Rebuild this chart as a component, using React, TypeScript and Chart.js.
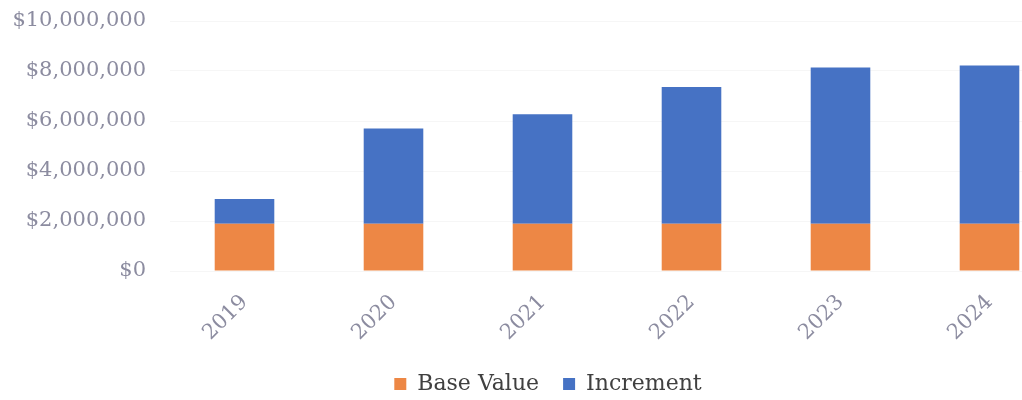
import React, { useEffect, useRef } from "react";
import { Chart, registerables } from "chart.js";

Chart.register(...registerables);

const years = ["2019", "2020", "2021", "2022", "2023", "2024"];
const baseValue = [1890000, 1890000, 1890000, 1890000, 1890000, 1890000];
const increment = [990000, 3810000, 4380000, 5470000, 6250000, 6330000];
const yTicks = [0, 2000000, 4000000, 6000000, 8000000, 10000000];

const FONT = "'DejaVu Serif', serif";
const TICK_COLOR = "#8c8ca0";

export default function App() {
  const ref = useRef<HTMLCanvasElement | null>(null);

  useEffect(() => {
    if (!ref.current) return;
    const chart = new Chart(ref.current, {
      type: "bar",
      data: {
        labels: years,
        datasets: [
          {
            label: "Base Value",
            data: baseValue,
            backgroundColor: "#ED8745",
            borderWidth: 0,
            categoryPercentage: 1,
            barPercentage: 0.4,
          },
          {
            label: "Increment",
            data: increment,
            backgroundColor: "#4672C4",
            borderWidth: 0,
            categoryPercentage: 1,
            barPercentage: 0.4,
          },
        ],
      },
      options: {
        animation: false,
        responsive: false,
        maintainAspectRatio: false,
        layout: { padding: { top: 21, right: 0, bottom: 0, left: 0 } },
        plugins: {
          tooltip: { enabled: false },
          legend: {
            position: "bottom",
            labels: {
              boxWidth: 12,
              boxHeight: 12,
              padding: 24,
              color: "#404040",
              font: { family: FONT, size: 22 },
            },
          },
        },
        scales: {
          x: {
            stacked: true,
            grid: { display: false },
            border: { display: false },
            ticks: {
              color: TICK_COLOR,
              font: { family: FONT, size: 21 },
              minRotation: 45,
              maxRotation: 45,
              padding: 11,
            },
            afterFit: (scale: any) => {
              scale.height = 78;
            },
          },
          y: {
            stacked: true,
            min: 0,
            max: 10000000,
            afterBuildTicks: (scale: any) => {
              scale.ticks = yTicks.map((v) => ({ value: v }));
            },
            grid: {
              color: "rgba(0,0,0,0.035)",
              drawTicks: true,
              tickLength: 24,
              tickColor: "rgba(0,0,0,0)",
            },
            border: { display: false },
            ticks: {
              color: TICK_COLOR,
              font: { family: FONT, size: 21 },
              padding: 0,
              callback: (v: any) => "$" + Number(v).toLocaleString("en-US"),
            },
            afterFit: (scale: any) => {
              scale.width = 170;
            },
          },
          yRight: {
            type: "linear",
            position: "right",
            display: true,
            grid: { display: false },
            border: { display: false },
            ticks: { display: false },
            afterFit: (scale: any) => {
              scale.width = 32;
            },
          },
        },
      },
    });
    return () => chart.destroy();
  }, []);

  return (
    <div
      style={{
        position: "absolute",
        left: 0,
        top: 0,
        width: 1022,
        height: 400,
        overflow: "hidden",
        background: "#fff",
      }}
    >
      <canvas ref={ref} width={1096} height={405} style={{ width: 1096, height: 405, display: "block" }} />
    </div>
  );
}
